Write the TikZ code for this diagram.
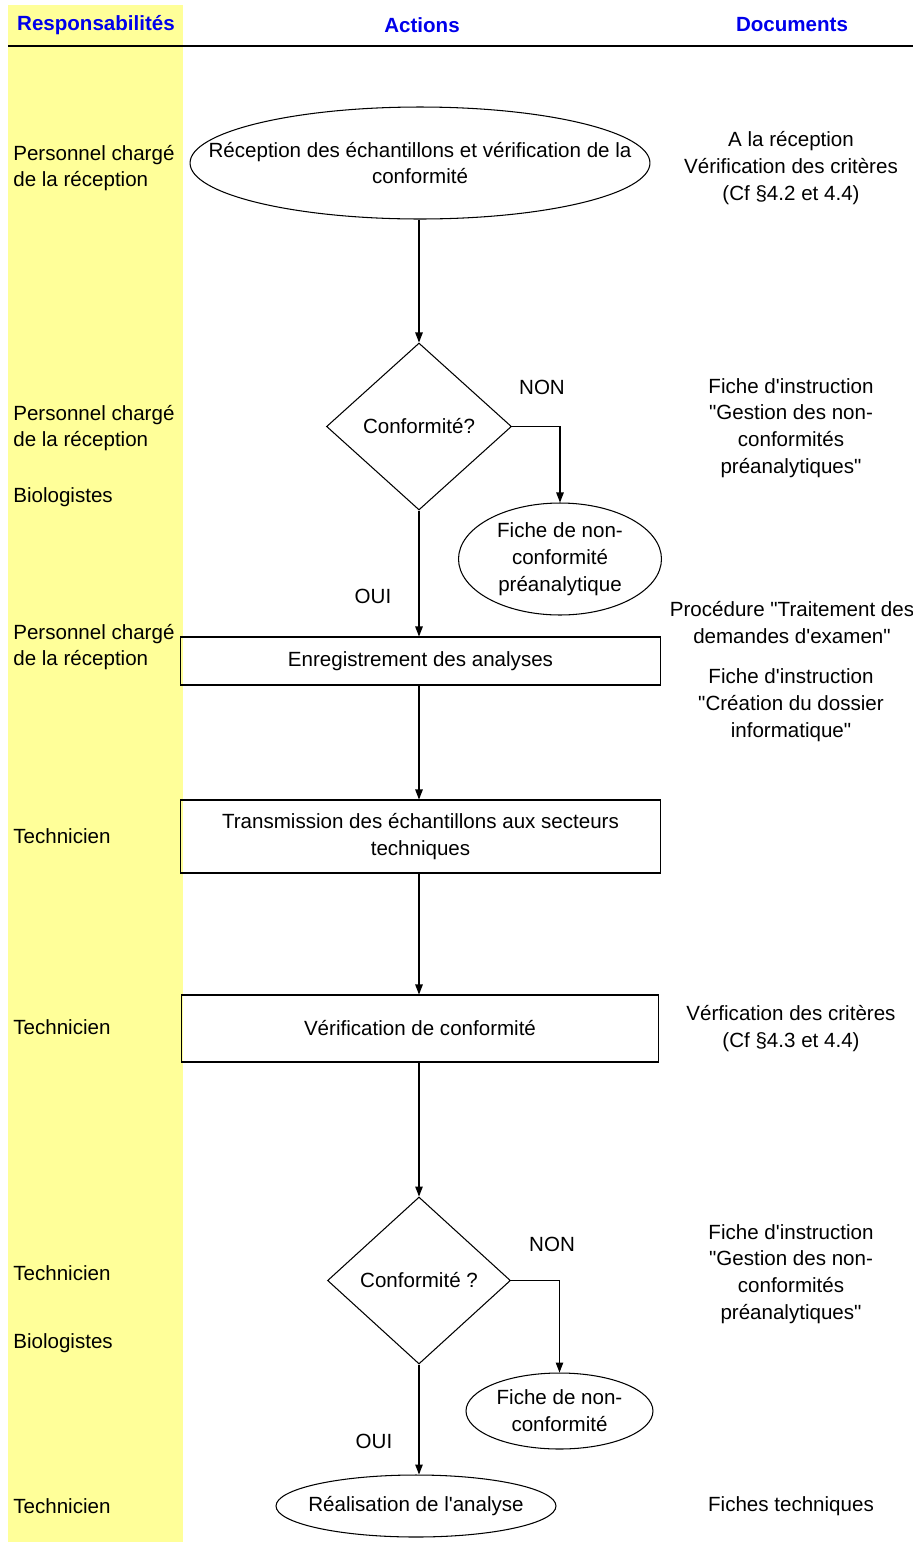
\documentclass[tikz,border=0pt]{standalone}
\usepackage{fontspec}
\setmainfont{Liberation Sans}[Ligatures=TeXOff]
\usepackage{xcolor}
\usepackage{tikz}
\usetikzlibrary{shapes.geometric,arrows.meta}
\definecolor{colyel}{RGB}{255,255,153}
\definecolor{hdblue}{RGB}{0,0,235}

\begin{document}
\begin{tikzpicture}[x=0.02cm,y=-0.02cm,font=\fontsize{11.7}{15.3}\selectfont,
 hd/.style={font=\fontsize{11.7}{14}\selectfont\bfseries,text=hdblue,inner sep=0pt},
 ell/.style={draw,ellipse,line width=0.6pt,inner xsep=-1.5cm,inner ysep=-0.3cm,align=center},
 dia/.style={draw,diamond,line width=0.6pt,inner sep=0pt,minimum height=3.34cm},
 box/.style={draw,rectangle,line width=0.6pt,inner sep=0pt,align=center},
 who/.style={anchor=west,align=left,inner sep=0pt},
 doc/.style={align=center,inner sep=0pt},
 lb/.style={inner sep=0pt},
 arr/.style={-{Triangle[length=2mm,width=1.5mm]},line width=0.6pt}]
\useasboundingbox (0,0) rectangle (913,1542);
\fill[colyel] (8,5) rectangle (183,1542);
\draw[line width=1.4pt] (8,46) -- (913,46);
\node[hd] (hresp) at (96,25) {Responsabilités};
\node[hd] (hact) at (422,25) {Actions};
\node[hd] (hdoc) at (792,25) {Documents};
\node[ell,minimum width=9.2cm,minimum height=2.24cm] (recep) at (420,163) {Réception des échantillons et vérification de la\\conformité};
\node[dia,minimum width=3.7cm] (conf1) at (419,426.5) {Conformité?};
\node[ell,minimum width=4.06cm,minimum height=2.24cm] (fnc1) at (560,559) {Fiche de non-\\conformité\\préanalytique};
\node[box,minimum width=9.62cm,minimum height=0.96cm] (enreg) at (420.5,661) {Enregistrement des analyses};
\node[box,minimum width=9.62cm,minimum height=1.46cm] (trans) at (420.5,836.5) {Transmission des échantillons aux secteurs\\techniques};
\node[box,minimum width=9.56cm,minimum height=1.34cm] (verif) at (420,1028.5) {Vérification de conformité};
\node[dia,minimum width=3.66cm] (conf2) at (419,1280.5) {Conformité ?};
\node[ell,minimum width=3.74cm,minimum height=1.52cm] (fnc2) at (559.5,1411) {Fiche de non-\\conformité};
\node[ell,minimum width=5.6cm,minimum height=1.24cm] (real) at (416,1506) {Réalisation de l'analyse};
\draw[arr] (conf1.north |- recep.south) -- (conf1.north);
\draw[arr] (conf1.east) -| (fnc1.north);
\draw[arr] (conf1.south) -- (conf1.south |- enreg.north);
\draw[arr] (conf1.south |- enreg.south) -- (conf1.south |- trans.north);
\draw[arr] (conf1.south |- trans.south) -- (conf1.south |- verif.north);
\draw[arr] (conf2.north |- verif.south) -- (conf2.north);
\draw[arr] (conf2.east) -| (fnc2.north);
\draw[arr] (conf2.south) -- (conf2.south |- real.north);
\node[lb] (non1) at (542,387) {NON};
\node[lb] (oui1) at (373,596) {OUI};
\node[lb] (non2) at (552,1244) {NON};
\node[lb] (oui2) at (374,1441) {OUI};
\node[who] (r1) at (13,168) {Personnel chargé\\de la réception};
\node[who] (r2) at (13,428) {Personnel chargé\\de la réception};
\node[who] (r3) at (13,497) {Biologistes};
\node[who] (r4) at (13,647) {Personnel chargé\\de la réception};
\node[who] (r5) at (13,836) {Technicien};
\node[who] (r6) at (13,1027) {Technicien};
\node[who] (r7) at (13,1273) {Technicien};
\node[who] (r8) at (13,1343) {Biologistes};
\node[who] (r9) at (13,1506) {Technicien};
\node[doc] (d1) at (791,168) {A la réception\\Vérification des critères\\(Cf §4.2 et 4.4)};
\node[doc] (d2) at (791,428) {Fiche d'instruction\\"Gestion des non-\\conformités\\préanalytiques"};
\node[doc] (d3) at (792,622.5) {Procédure "Traitement des\\demandes d'examen"};
\node[doc] (d4) at (791,705) {Fiche d'instruction\\"Création du dossier\\informatique"};
\node[doc] (d5) at (791,1028.5) {Vérfication des critères\\(Cf §4.3 et 4.4)};
\node[doc] (d6) at (791,1274) {Fiche d'instruction\\"Gestion des non-\\conformités\\préanalytiques"};
\node[doc] (d7) at (791,1506) {Fiches techniques};
\end{tikzpicture}
\end{document}
